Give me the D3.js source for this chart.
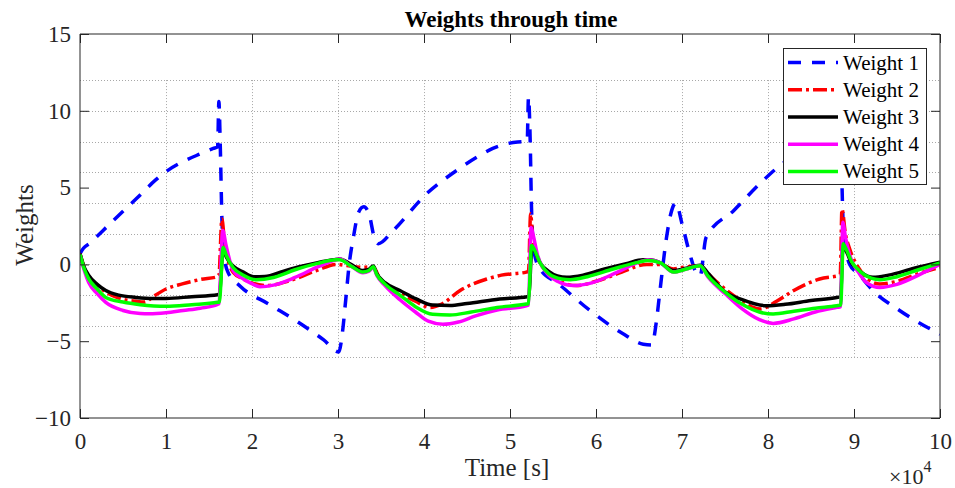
<!DOCTYPE html>
<html>
<head>
<meta charset="utf-8">
<script src="https://cdn.jsdelivr.net/npm/d3@7"></script>
<style>
  svg text, svg tspan { font-family: "Liberation Serif" !important; }
</style>
</head>
<body style="margin:0;background:#fff">
<svg id="chart" width="955" height="488"></svg>
<script>
// ---- data (time in units of 10^4 s, weight value) ----
const seriesNames = ["Weight 1", "Weight 2", "Weight 3", "Weight 4", "Weight 5"];
const xTicks = [0, 1, 2, 3, 4, 5, 6, 7, 8, 9, 10];
const yTicks = [-10, -5, 0, 5, 10, 15];
const xGrid = [1, 2, 3, 4, 5, 6, 7, 8, 9];
const yGrid = [-6, -4, -2, 0, 2, 4, 6, 8, 10, 12];

const weight1 = [
  [0, 0.7], [0.04, 1.05], [0.12, 1.4], [0.23, 2.0], [0.47, 3.3], [0.66, 4.3], [0.88, 5.5], [0.99, 6.0],
  [1.2, 6.7], [1.4, 7.2], [1.55, 7.55], [1.6, 7.65], [1.615, 10.6], [1.63, 8.0], [1.65, 3.0], [1.67, 0.8],
  [1.72, -0.5], [1.86, -1.4], [2.2, -2.6], [2.52, -3.7], [2.83, -4.9], [3.01, -5.7], [3.05, -4.5],
  [3.09, -2.3], [3.13, 0.0], [3.18, 1.8], [3.24, 3.4], [3.3, 3.75], [3.36, 3.3], [3.42, 1.8], [3.47, 1.35],
  [3.64, 2.2], [4.03, 4.6], [4.35, 6.0], [4.65, 7.1], [4.8, 7.55], [5.09, 7.97], [5.2, 8.0], [5.215, 10.9],
  [5.235, 8.0], [5.25, 3.7], [5.28, 0.8], [5.35, -0.3], [5.56, -1.25], [5.93, -3.0], [6.31, -4.5],
  [6.55, -5.2], [6.65, -5.25], [6.7, -3.8], [6.74, -1.9], [6.82, 1.75], [6.87, 3.3], [6.93, 4.0],
  [7.0, 2.65], [7.09, 0.7], [7.17, -0.6], [7.21, -0.75], [7.28, 1.75], [7.6, 3.5], [7.95, 5.5],
  [8.18, 6.6], [8.5, 7.5], [8.8, 7.9], [8.83, 10.8], [8.85, 8.0], [8.86, 5.3], [8.88, 2.0], [8.95, 0.0],
  [9.05, -0.6], [9.22, -1.7], [9.53, -3.0], [10, -4.55]
];
const weight2 = [
  [0, 0.7], [0.05, -0.2], [0.1, -0.75], [0.2, -1.35], [0.3, -1.8], [0.45, -2.2], [0.65, -2.4], [0.75, -2.45],
  [0.85, -2.1], [1.0, -1.6], [1.19, -1.27], [1.4, -0.98], [1.6, -0.8], [1.615, -0.75], [1.65, 2.95],
  [1.68, 1.5], [1.72, 0.3], [1.78, -0.5], [1.9, -0.95], [1.98, -1.17], [2.17, -1.38], [2.44, -1.06],
  [2.75, -0.4], [2.98, 0.0], [3.1, -0.08], [3.29, -0.19], [3.41, -0.15], [3.49, -1.0], [3.72, -1.85],
  [3.9, -2.4], [4.07, -2.8], [4.2, -2.6], [4.42, -1.7], [4.73, -0.95], [4.9, -0.7], [5.19, -0.5],
  [5.215, -0.45], [5.24, 3.3], [5.26, 2.0], [5.3, 0.8], [5.4, -0.3], [5.55, -1.0], [5.77, -1.38],
  [6.0, -1.1], [6.3, -0.5], [6.59, 0.0], [6.75, 0.0], [6.9, -0.3], [7.0, -0.2], [7.21, -0.08], [7.3, -0.6],
  [7.5, -1.6], [7.7, -2.4], [7.91, -2.9], [8.1, -2.4], [8.3, -1.7], [8.6, -0.95], [8.82, -0.73],
  [8.84, -0.7], [8.86, 3.6], [8.9, 2.0], [8.95, 1.0], [9.05, -0.2], [9.15, -0.9], [9.3, -1.27],
  [9.5, -1.1], [9.75, -0.6], [10, -0.19]
];
const weight3 = [
  [0, 0.7], [0.05, -0.2], [0.1, -0.7], [0.2, -1.3], [0.3, -1.7], [0.45, -2.0], [0.65, -2.15], [0.85, -2.22],
  [1.0, -2.22], [1.3, -2.1], [1.6, -1.97], [1.62, -1.95], [1.665, 1.0], [1.7, 0.5], [1.78, -0.1],
  [1.9, -0.5], [2.02, -0.8], [2.15, -0.78], [2.36, -0.45], [2.55, -0.15], [2.75, 0.1], [2.95, 0.3],
  [3.02, 0.35], [3.15, 0.0], [3.28, -0.4], [3.35, -0.35], [3.41, -0.1], [3.45, -0.6], [3.55, -1.2],
  [3.72, -1.7], [3.91, -2.25], [4.1, -2.65], [4.3, -2.68], [4.5, -2.55], [4.88, -2.25], [5.2, -2.1],
  [5.22, -2.05], [5.255, 1.1], [5.28, 0.95], [5.35, 0.1], [5.45, -0.45], [5.55, -0.75], [5.66, -0.84],
  [5.85, -0.7], [6.1, -0.3], [6.35, 0.05], [6.55, 0.3], [6.62, 0.3], [6.75, 0.1], [6.9, -0.4],
  [7.05, -0.25], [7.21, -0.05], [7.3, -0.55], [7.48, -1.7], [7.7, -2.3], [7.98, -2.69], [8.2, -2.6],
  [8.5, -2.35], [8.8, -2.15], [8.845, -2.1], [8.87, 1.1], [8.9, 0.95], [8.97, 0.1], [9.08, -0.5],
  [9.22, -0.84], [9.4, -0.7], [9.7, -0.25], [10, 0.14]
];
const weight4 = [
  [0, 0.6], [0.05, -0.4], [0.1, -1.17], [0.2, -1.9], [0.3, -2.47], [0.5, -3.0], [0.7, -3.2], [0.81, -3.22],
  [1.0, -3.15], [1.2, -3.0], [1.4, -2.85], [1.6, -2.6], [1.615, -2.55], [1.66, 2.2], [1.7, 1.2],
  [1.78, -0.4], [1.9, -0.95], [1.98, -1.2], [2.09, -1.45], [2.25, -1.35], [2.5, -0.85], [2.75, -0.2],
  [2.98, 0.3], [3.02, 0.35], [3.15, -0.1], [3.29, -0.55], [3.36, -0.45], [3.41, -0.2], [3.45, -0.7],
  [3.55, -1.4], [3.72, -2.3], [3.9, -3.1], [4.05, -3.7], [4.22, -3.9], [4.4, -3.75], [4.6, -3.35],
  [4.85, -2.97], [5.19, -2.69], [5.215, -2.65], [5.245, 2.4], [5.27, 1.9], [5.32, 0.6], [5.42, -0.5],
  [5.55, -1.1], [5.74, -1.38], [5.95, -1.2], [6.25, -0.5], [6.5, 0.15], [6.6, 0.3], [6.75, 0.1],
  [6.9, -0.5], [7.05, -0.3], [7.21, -0.08], [7.3, -0.8], [7.5, -1.9], [7.7, -2.9], [7.9, -3.6],
  [8.06, -3.84], [8.3, -3.55], [8.55, -3.1], [8.8, -2.8], [8.845, -2.75], [8.87, 2.75], [8.9, 1.8],
  [8.95, 0.6], [9.05, -0.5], [9.15, -1.2], [9.3, -1.5], [9.5, -1.3], [9.75, -0.7], [10, 0.0]
];
const weight5 = [
  [0, 0.65], [0.05, -0.3], [0.1, -0.93], [0.2, -1.6], [0.3, -2.15], [0.5, -2.45], [0.7, -2.62],
  [1.0, -2.73], [1.3, -2.62], [1.6, -2.47], [1.62, -2.45], [1.665, 1.1], [1.7, 0.6], [1.78, -0.2],
  [1.9, -0.7], [2.05, -1.0], [2.25, -0.85], [2.5, -0.35], [2.75, 0.05], [2.98, 0.3], [3.02, 0.3],
  [3.15, -0.1], [3.29, -0.5], [3.36, -0.4], [3.41, -0.15], [3.45, -0.65], [3.55, -1.3], [3.72, -2.0],
  [3.9, -2.75], [4.1, -3.25], [4.3, -3.3], [4.55, -3.1], [4.85, -2.8], [5.19, -2.58], [5.215, -2.55],
  [5.25, 1.23], [5.28, 1.0], [5.35, 0.1], [5.45, -0.6], [5.6, -0.95], [5.7, -1.0], [5.9, -0.8],
  [6.2, -0.3], [6.5, 0.15], [6.6, 0.25], [6.75, 0.1], [6.9, -0.5], [7.05, -0.3], [7.21, -0.08],
  [7.3, -0.75], [7.5, -1.8], [7.7, -2.6], [7.9, -3.1], [8.06, -3.23], [8.3, -3.05], [8.55, -2.85],
  [8.8, -2.69], [8.845, -2.65], [8.875, 1.34], [8.9, 1.1], [8.97, 0.2], [9.08, -0.5], [9.2, -0.9],
  [9.3, -1.0], [9.5, -0.8], [9.75, -0.35], [10, 0.1]
];

const allSeries = [weight1, weight2, weight3, weight4, weight5];
const colors = ["#0000ff", "#ff0000", "#000000", "#ff00ff", "#00ff00"];
const dashes = ["13,11", "14,4,3,4", null, null, null];

// ---- layout ----
const FONT = "Liberation Serif";
const svg = d3.select("#chart");
const L = 80, R = 940, T = 34, B = 418;
const x = d3.scaleLinear().domain([0, 10]).range([L, R]);
const y = d3.scaleLinear().domain([-10, 15]).range([B, T]);
const axisColor = "#262626";

function setFont(sel, size) {
  sel.attr("font-family", FONT).attr("font-size", size)
    .style("font-family", FONT, "important").style("font-size", size + "px");
  return sel;
}

svg.append("rect").attr("width", 955).attr("height", 488).attr("fill", "#fff");

// grid
const grid = svg.append("g").attr("stroke", "#a8a8a8").attr("stroke-width", 1)
  .attr("stroke-dasharray", "1,2");
grid.selectAll(".hg").data(yGrid).join("line")
  .attr("x1", L).attr("x2", R)
  .attr("y1", d => Math.round(y(d)) + 0.5).attr("y2", d => Math.round(y(d)) + 0.5);
grid.selectAll(".vg").data(xGrid).join("line")
  .attr("x1", d => Math.round(x(d)) + 0.5).attr("x2", d => Math.round(x(d)) + 0.5)
  .attr("y1", y(12)).attr("y2", y(-6));

// clip
svg.append("clipPath").attr("id", "plotclip").append("rect")
  .attr("x", L).attr("y", T).attr("width", R - L).attr("height", B - T);

const lineGen = d3.line().x(d => x(d[0])).y(d => y(d[1])).curve(d3.curveMonotoneX);
const linesG = svg.append("g").attr("clip-path", "url(#plotclip)");
allSeries.forEach((s, i) => {
  linesG.append("path").datum(s)
    .attr("d", lineGen)
    .attr("fill", "none")
    .attr("stroke", colors[i])
    .attr("stroke-width", 3.5)
    .attr("stroke-linejoin", "round")
    .attr("stroke-dasharray", dashes[i]);
});

// axes
const ax = svg.append("g");
const axBottom = d3.axisBottom(x).tickValues(xTicks).tickSize(-9).tickPadding(15).tickFormat(d3.format("d"));
const axTop = d3.axisTop(x).tickValues(xTicks).tickSize(-9).tickFormat("");
const axLeft = d3.axisLeft(y).tickValues(yTicks).tickSize(-9).tickPadding(9).tickFormat(d3.format("d"));
const axRight = d3.axisRight(y).tickValues(yTicks).tickSize(-9).tickFormat("");

function styleAxis(g) {
  g.attr("font-family", FONT).attr("font-size", 23);
  g.select(".domain").attr("stroke", axisColor).attr("stroke-width", 1);
  g.selectAll(".tick line").attr("stroke", axisColor).attr("stroke-width", 1);
  setFont(g.selectAll(".tick text").attr("fill", axisColor), 23);
}
ax.append("g").attr("transform", `translate(0,${B})`).call(axBottom).call(g => {
  g.select(".domain").attr("d", `M${L},0H${R}`);
  styleAxis(g);
});
ax.append("g").attr("transform", `translate(0,${T})`).call(axTop).call(g => {
  g.select(".domain").attr("d", `M${L},0H${R}`);
  styleAxis(g);
});
ax.append("g").attr("transform", `translate(${L},0)`).call(axLeft).call(g => {
  g.select(".domain").attr("d", `M0,${B}V${T}`);
  styleAxis(g);
});
ax.append("g").attr("transform", `translate(${R},0)`).call(axRight).call(g => {
  g.select(".domain").attr("d", `M0,${B}V${T}`);
  styleAxis(g);
});

// title & labels
setFont(svg.append("text"), 23).attr("x", 511).attr("y", 27).attr("text-anchor", "middle")
  .attr("font-weight", "bold").style("font-weight", "bold").attr("fill", "#000")
  .text("Weights through time");
setFont(svg.append("text"), 25).attr("x", 507).attr("y", 476).attr("text-anchor", "middle")
  .attr("fill", axisColor).text("Time [s]");
setFont(svg.append("text"), 25).attr("transform", "translate(33,225) rotate(-90)").attr("text-anchor", "middle")
  .attr("fill", axisColor).text("Weights");
const mult = setFont(svg.append("text"), 22).attr("x", 889).attr("y", 484).attr("fill", axisColor);
mult.append("tspan").text("\u00d710");
mult.append("tspan").attr("dy", -12).attr("font-size", 16).style("font-size", "16px").text("4");

// legend
const lg = svg.append("g");
const lx = 783, ly = 48, lw = 143, lh = 136;
lg.append("rect").attr("x", lx + 0.5).attr("y", ly + 0.5).attr("width", lw).attr("height", lh)
  .attr("fill", "#fff").attr("stroke", axisColor).attr("stroke-width", 1);
seriesNames.forEach((name, i) => {
  const cy = ly + lh * (i + 0.5) / 5 + 1;
  lg.append("line").attr("x1", lx + 5).attr("x2", lx + 55).attr("y1", cy).attr("y2", cy)
    .attr("stroke", colors[i]).attr("stroke-width", 3.5).attr("stroke-dasharray", dashes[i]);
  setFont(lg.append("text"), 21).attr("x", lx + 60).attr("y", cy).attr("dy", "0.33em")
    .attr("fill", "#000").text(name);
});
</script>
</body>
</html>
